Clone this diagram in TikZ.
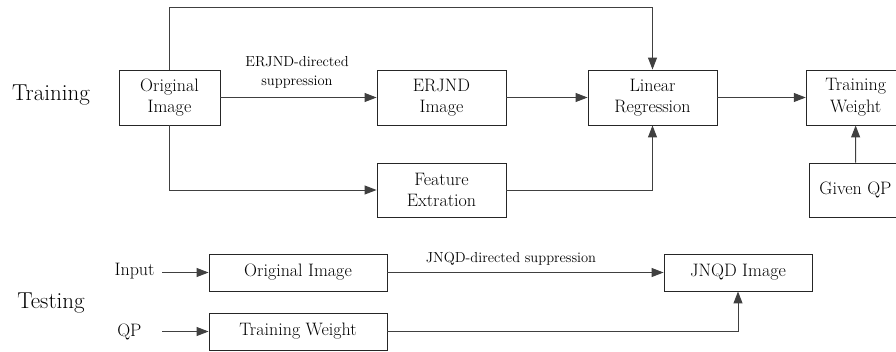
\documentclass[tikz,border=0pt]{standalone}
\usetikzlibrary{arrows.meta}
\tikzset{
  block/.style={draw=black!85, line width=0.9pt, inner sep=0pt, align=center,
    font=\fontsize{18}{21.6}\selectfont},
  lbl/.style={inner sep=0pt, align=center, font=\fontsize{14.5}{19}\selectfont},
  side/.style={inner sep=0pt, font=\fontsize{23}{27}\selectfont},
  link/.style={draw=black!75, line width=1pt, -{Triangle[length=12pt,width=9pt]}}
}
\begin{document}
\begin{tikzpicture}[x=1pt,y=-1pt]
  \clip (0,0) rectangle (896,351);
  %\draw[lightgray] (0,0) grid[step=50] (896,351);
  % training
  \node[side] (train) at (51,95) {Training};
  \node[block, minimum width=101, minimum height=55] (orig) at (169.5,97.5) {Original\\Image};
  \node[block, minimum width=129, minimum height=55] (erjnd) at (441.5,97.5) {ERJND\\Image};
  \node[block, minimum width=129, minimum height=54] (feat) at (441.5,190) {Feature\\Extration};
  \node[block, minimum width=129, minimum height=55] (linreg) at (652.5,97.5) {Linear\\Regression};
  \node[block, minimum width=99, minimum height=55] (tw) at (855.7,97.5) {Training\\Weight};
  \node[block, minimum width=93, minimum height=54] (gqp) at (855.5,190) {Given QP};
  \node[lbl] (erlbl) at (297,72) {ERJND-directed\\suppression};
  \draw[link] (orig) -- (erjnd);
  \draw[link] (erjnd) -- (linreg);
  \draw[link] (linreg) -- (tw);
  \draw[link] (gqp) -- (tw);
  \draw[link] (orig.north) |- (652.5,7) -- (linreg.north);
  \draw[link] (orig.south) |- (feat.west);
  \draw[link] (feat.east) -| (linreg.south);
  % testing
  \node[side] (test) at (51,303) {Testing};
  \node[block, minimum width=178, minimum height=37] (orig2) at (298,272.5) {Original Image};
  \node[block, minimum width=178, minimum height=37] (tw2) at (298,331.5) {Training Weight};
  \node[block, minimum width=148, minimum height=37] (jnqd) at (738,272.5) {JNQD Image};
  \node[block, draw=none, anchor=east] (inp) at (155,271) {Input};
  \node[block, draw=none, anchor=east] (qp) at (142,332) {QP};
  \coordinate (inpend) at (162,272.5);
  \coordinate (qpend) at (162,331.5);
  \node[lbl] (jnlbl) at (511,259) {JNQD-directed suppression};
  \draw[link] (inpend) -- (orig2);
  \draw[link] (qpend) -- (tw2);
  \draw[link] (orig2) -- (jnqd);
  \draw[link] (tw2.east) -| (jnqd.south);
\end{tikzpicture}
\end{document}
